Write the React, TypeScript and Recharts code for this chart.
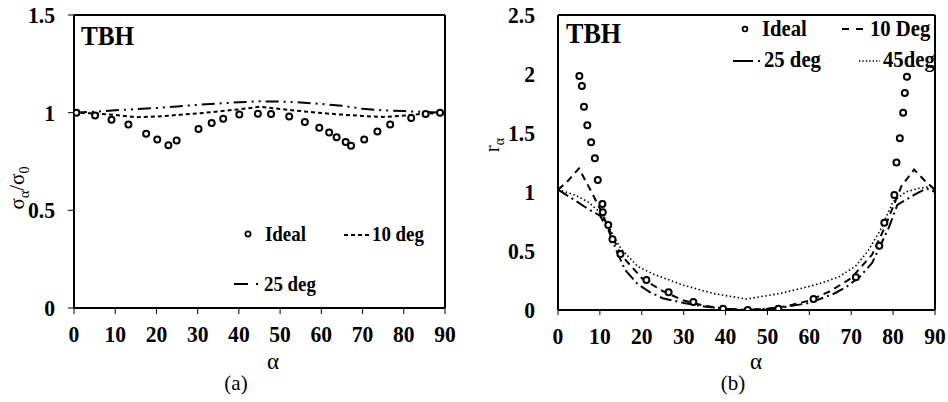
import React from 'react';
import { LineChart, Line, XAxis, YAxis, ReferenceLine } from 'recharts';

// ---------- data ----------
const alphaTicks = [0, 10, 20, 30, 40, 50, 60, 70, 80, 90];
const leftYTicks = [0, 0.5, 1, 1.5];
const rightYTicks = [0, 0.5, 1, 1.5, 2, 2.5];

// (a) sigma_alpha / sigma_0
const leftIdealAlpha = [0.6, 5.1, 9.1, 13.2, 17.5, 20.2, 22.9, 24.9, 30.2, 33.4, 36.2, 40.1, 44.6, 47.8, 52.2, 56.0, 59.5, 61.9, 63.7, 65.9, 67.2, 70.4, 73.6, 76.7, 81.8, 85.3, 88.8];
const leftIdealValue = [1.0, 0.986, 0.964, 0.939, 0.892, 0.862, 0.833, 0.858, 0.916, 0.947, 0.969, 0.99, 0.995, 0.993, 0.98, 0.952, 0.923, 0.898, 0.874, 0.85, 0.831, 0.862, 0.904, 0.939, 0.973, 0.993, 1.0];
const leftLineAlpha = [0, 5, 10, 15, 20, 25, 30, 35, 40, 45, 50, 55, 60, 65, 70, 75, 80, 85, 90];
const left10Deg = [1.0, 0.996, 0.988, 0.977, 0.98, 0.988, 0.996, 1.006, 1.017, 1.03, 1.019, 1.008, 0.998, 0.99, 0.983, 0.978, 0.985, 0.995, 1.0];
const left25Deg = [1.0, 1.005, 1.012, 1.018, 1.024, 1.032, 1.04, 1.047, 1.053, 1.058, 1.057, 1.052, 1.045, 1.035, 1.02, 1.012, 1.008, 1.004, 1.0];

// (b) r_alpha
const rightIdealAlpha = [5.1, 5.7, 6.2, 7.0, 7.9, 8.8, 9.5, 10.6, 10.7, 12.0, 13.0, 14.9, 21.1, 26.4, 32.3, 39.4, 45.3, 52.6, 61.0, 71.1, 76.7, 77.9, 80.3, 80.8, 81.6, 82.4, 82.8, 83.3];
const rightIdealValue = [1.983, 1.898, 1.723, 1.565, 1.421, 1.285, 1.102, 0.898, 0.828, 0.72, 0.6, 0.475, 0.254, 0.15, 0.068, 0.011, 0.0, 0.011, 0.093, 0.277, 0.545, 0.74, 0.975, 1.25, 1.455, 1.672, 1.84, 1.977];
const right10Alpha = [0, 2, 5, 8, 10, 12, 15, 20, 25, 30, 35, 40, 45, 50, 55, 60, 65, 70, 75, 78, 82, 85, 88, 90];
const right10Value = [1.02, 1.08, 1.2, 1.0, 0.86, 0.7, 0.47, 0.27, 0.16, 0.08, 0.035, 0.01, 0.0, 0.01, 0.035, 0.08, 0.16, 0.27, 0.47, 0.7, 1.05, 1.19, 1.08, 1.02];
const right25Alpha = [0, 4, 7, 10, 12, 14, 16, 19, 22, 25, 30, 35, 40, 45, 50, 55, 60, 63, 66, 69, 72, 75, 79, 81, 85, 88, 90];
const right25Value = [1.02, 0.93, 0.86, 0.8, 0.68, 0.5, 0.34, 0.22, 0.15, 0.1, 0.06, 0.03, 0.01, 0.0, 0.01, 0.03, 0.06, 0.1, 0.14, 0.2, 0.28, 0.4, 0.7, 0.89, 0.975, 1.03, 1.0];
const right45Alpha = [0, 4, 7, 10, 12, 15, 19, 23, 30, 37, 45, 53, 60, 63, 67, 71, 74, 77, 80, 83, 86, 89, 90];
const right45Value = [1.02, 0.975, 0.92, 0.83, 0.71, 0.52, 0.37, 0.3, 0.21, 0.14, 0.093, 0.14, 0.2, 0.23, 0.28, 0.37, 0.5, 0.68, 0.92, 1.0, 1.03, 1.045, 1.0];

const zip = (a: number[], v: number[]) => a.map((x, i) => ({ a: x, v: v[i] }));

const FONT = "'Liberation Serif', 'Times New Roman', serif";
const idealDot = { r: 3, stroke: '#000', strokeWidth: 2, fill: '#fff' };
const SX = 0.9;

const XTick = (props: any) => {
  const { x, y, payload } = props;
  return (
    <text transform={`translate(${x},${y}) scale(${SX},1)`} x={0} y={0} dy="0.7em" textAnchor="middle" fill="#000" fontSize={24} fontWeight="bold" fontFamily={FONT}>
      {payload.value}
    </text>
  );
};
const YTick = (props: any) => {
  const { x, y, payload } = props;
  return (
    <text transform={`translate(${x},${y}) scale(${SX},1)`} x={0} y={0} dy="0.34em" textAnchor="end" fill="#000" fontSize={24} fontWeight="bold" fontFamily={FONT}>
      {payload.value}
    </text>
  );
};

const T = ({ x, y, size, bold, anchor, children }: any) => (
  <text
    transform={`translate(${x},${y}) scale(${SX},1)`}
    x={0}
    y={0}
    fontSize={size}
    fontWeight={bold ? 'bold' : 'normal'}
    textAnchor={anchor || 'start'}
    fill="#000"
  >
    {children}
  </text>
);

export default function App() {
  return (
    <div style={{ position: 'absolute', left: 0, top: 0, width: 948, height: 402, background: '#fff', fontFamily: FONT }}>
      {/* Panel (a) */}
      <div style={{ position: 'absolute', left: 0, top: 0 }}>
        <LineChart width={470} height={402} margin={{ top: 15, right: 25, bottom: 54, left: 0 }}>
          <XAxis
            dataKey="a"
            type="number"
            domain={[0, 90]}
            ticks={alphaTicks}
            height={40}
            tick={<XTick />}
            tickSize={6}
            tickMargin={11}
            axisLine={{ stroke: '#000', strokeWidth: 2 }}
            tickLine={{ stroke: '#000', strokeWidth: 1 }}
            allowDataOverflow
          />
          <YAxis
            type="number"
            domain={[0, 1.5]}
            ticks={leftYTicks}
            width={74}
            tick={<YTick />}
            tickSize={6}
            tickMargin={13}
            axisLine={{ stroke: '#000', strokeWidth: 2 }}
            tickLine={{ stroke: '#000', strokeWidth: 1 }}
            allowDataOverflow
          />
          <ReferenceLine y={1.5} stroke="#000" strokeWidth={2} />
          <ReferenceLine x={90} stroke="#000" strokeWidth={2} />
          <Line data={zip(leftLineAlpha, left25Deg)} dataKey="v" stroke="#000" strokeWidth={2} strokeDasharray="13 5 2 5 2 5" dot={false} isAnimationActive={false} />
          <Line data={zip(leftLineAlpha, left10Deg)} dataKey="v" stroke="#000" strokeWidth={2} strokeDasharray="4 3" dot={false} isAnimationActive={false} />
          <Line data={zip(leftIdealAlpha, leftIdealValue)} dataKey="v" stroke="none" dot={idealDot} isAnimationActive={false} />
        </LineChart>
      </div>

      {/* Panel (b) */}
      <div style={{ position: 'absolute', left: 480, top: 0 }}>
        <LineChart width={468} height={402} margin={{ top: 15, right: 13, bottom: 52, left: 0 }}>
          <XAxis
            dataKey="a"
            type="number"
            domain={[0, 90]}
            ticks={alphaTicks}
            height={40}
            tick={<XTick />}
            tickSize={5}
            tickMargin={12}
            axisLine={{ stroke: '#000', strokeWidth: 2 }}
            tickLine={{ stroke: '#000', strokeWidth: 1 }}
            allowDataOverflow
          />
          <YAxis
            type="number"
            domain={[0, 2.5]}
            ticks={rightYTicks}
            width={78}
            tick={<YTick />}
            tickSize={6}
            tickMargin={17}
            axisLine={{ stroke: '#000', strokeWidth: 2 }}
            tickLine={{ stroke: 'none' }}
            allowDataOverflow
          />
          <ReferenceLine y={2.5} stroke="#000" strokeWidth={2} />
          <ReferenceLine x={90} stroke="#000" strokeWidth={2} />
          <Line data={zip(right45Alpha, right45Value)} dataKey="v" stroke="#000" strokeWidth={1.6} strokeDasharray="1.5 2.5" dot={false} isAnimationActive={false} />
          <Line data={zip(right25Alpha, right25Value)} dataKey="v" stroke="#000" strokeWidth={2} strokeDasharray="12 4 2 4" dot={false} isAnimationActive={false} />
          <Line data={zip(right10Alpha, right10Value)} dataKey="v" stroke="#000" strokeWidth={2} strokeDasharray="7 5" dot={false} isAnimationActive={false} />
          <Line data={zip(rightIdealAlpha, rightIdealValue)} dataKey="v" stroke="none" dot={idealDot} isAnimationActive={false} />
        </LineChart>
      </div>

      {/* Text and legends overlay */}
      <svg width={948} height={402} style={{ position: 'absolute', left: 0, top: 0, pointerEvents: 'none' }} fontFamily={FONT}>
        {/* titles */}
        <T x={81} y={45} size={28} bold>TBH</T>
        <T x={566} y={43} size={29} bold>TBH</T>

        {/* axis labels */}
        <text x={273} y={369} fontSize={23} textAnchor="middle">α</text>
        <text x={756} y={369} fontSize={23} textAnchor="middle">α</text>
        <text x={236} y={390} fontSize={21} textAnchor="middle">(a)</text>
        <text x={733} y={390} fontSize={21} textAnchor="middle">(b)</text>

        <g transform="translate(24,188) rotate(-90)">
          <text x={0} y={0} fontSize={21} textAnchor="middle">
            σ<tspan fontSize={14} dy={5}>α</tspan><tspan dy={-5}>/σ</tspan><tspan fontSize={14} dy={5}>0</tspan>
          </text>
        </g>
        <g transform="translate(499,145) rotate(-90)">
          <text x={0} y={0} fontSize={21} textAnchor="middle">
            r<tspan fontSize={14} dy={5}>α</tspan>
          </text>
        </g>

        {/* legend (a) */}
        <circle cx={248} cy={234} r={2.6} fill="#fff" stroke="#000" strokeWidth={1.8} />
        <T x={265} y={241} size={21} bold>Ideal</T>
        <line x1={344} y1={235} x2={371} y2={235} stroke="#000" strokeWidth={2} strokeDasharray="4 3" />
        <T x={372} y={241} size={21} bold>10 deg</T>
        <line x1={234} y1={284} x2={248} y2={284} stroke="#000" strokeWidth={2} />
        <line x1={256} y1={284} x2={258} y2={284} stroke="#000" strokeWidth={2} />
        <T x={264} y={291} size={21} bold>25 deg</T>

        {/* legend (b) */}
        <circle cx={745} cy={29} r={2.4} fill="#fff" stroke="#000" strokeWidth={1.8} />
        <T x={762} y={36} size={23} bold>Ideal</T>
        <line x1={842} y1={29} x2={863} y2={29} stroke="#000" strokeWidth={2} strokeDasharray="7 7" />
        <T x={870} y={36} size={23} bold>10 Deg</T>
        <line x1={733} y1={61} x2={753} y2={61} stroke="#000" strokeWidth={2} />
        <line x1={758} y1={61} x2={760} y2={61} stroke="#000" strokeWidth={2} />
        <T x={764} y={67} size={23} bold>25 deg</T>
        <line x1={859} y1={61} x2={880} y2={61} stroke="#000" strokeWidth={1.4} strokeDasharray="1.4 2" />
        <T x={883} y={67} size={23} bold>45deg</T>
      </svg>
    </div>
  );
}
